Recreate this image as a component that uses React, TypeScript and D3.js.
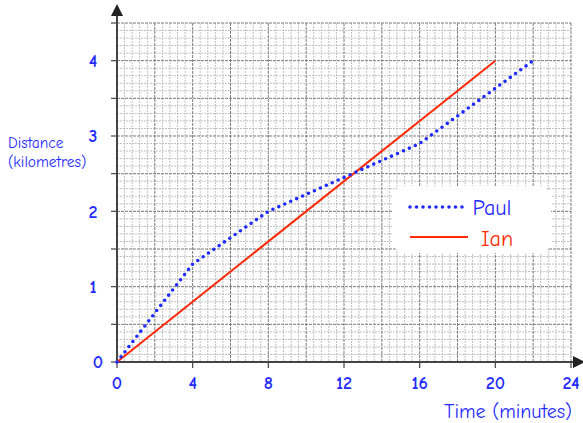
import React from "react";
import * as d3 from "d3";

const paulTime = [0, 4, 8, 16, 22];
const paulDist = [0, 1.3, 2.0, 2.9, 4.0];
const ianTime = [0, 20];
const ianDist = [0, 4.0];
const xTicks = [0, 4, 8, 12, 16, 20, 24];
const yTicks = [0, 1, 2, 3, 4];
const seriesNames = ["Paul", "Ian"];

const W = 583;
const H = 423;
const BLUE = "#1f2bff";
const RED = "#ff2a0a";
const FONT = "'Comic Sans MS', 'Comic Neue', Lato, 'Open Sans', sans-serif";

export default function App() {
  const x = d3.scaleLinear().domain([0, 24]).range([117, 571]);
  const y = d3.scaleLinear().domain([0, 4.5]).range([362, 23]);

  const minorX = d3.range(0, 24.001, 0.4);
  const minorY = d3.range(0, 4.5001, 0.1);
  const isMajorX = (v: number) => Math.abs(v / 2 - Math.round(v / 2)) < 1e-6;
  const isMajorY = (v: number) => Math.abs(v / 0.5 - Math.round(v / 0.5)) < 1e-6;

  const line = d3
    .line<[number, number]>()
    .x((d) => x(d[0]))
    .y((d) => y(d[1]));
  const paul = line(paulTime.map((t, i) => [t, paulDist[i]] as [number, number])) || "";
  const ian = line(ianTime.map((t, i) => [t, ianDist[i]] as [number, number])) || "";

  return (
    <svg
      width={W}
      height={H}
      style={{ position: "absolute", left: 0, top: 0, background: "#fff" }}
      fontFamily={FONT}
    >
      <defs>
        <marker id="arr" viewBox="0 0 10 10" refX="5" refY="5" markerWidth="6" markerHeight="6" orient="auto">
          <path d="M0,0 L10,5 L0,10 z" fill="#222" />
        </marker>
      </defs>
      {/* minor grid */}
      <g>
        {minorX.filter((v) => !isMajorX(v)).map((v, i) => (
          <line key={"mx" + i} x1={x(v)} x2={x(v)} y1={y(4.5)} y2={y(0)} stroke="#b0b0b0" strokeWidth={0.8} strokeDasharray="2 1" />
        ))}
        {minorY.filter((v) => !isMajorY(v)).map((v, i) => (
          <line key={"my" + i} x1={x(0)} x2={x(24)} y1={y(v)} y2={y(v)} stroke="#b0b0b0" strokeWidth={0.8} strokeDasharray="2 1" />
        ))}
        {minorX.filter((v) => isMajorX(v)).map((v, i) => (
          <line key={"Mx" + i} x1={x(v)} x2={x(v)} y1={y(4.5)} y2={y(0)} stroke="#7a7a7a" strokeWidth={1} strokeDasharray="3 1" />
        ))}
        {minorY.filter((v) => isMajorY(v)).map((v, i) => (
          <line key={"My" + i} x1={x(0)} x2={x(24)} y1={y(v)} y2={y(v)} stroke="#7a7a7a" strokeWidth={1} strokeDasharray="3 1" />
        ))}
      </g>
      {/* axes */}
      <line x1={x(0)} x2={x(0)} y1={y(0)} y2={10} stroke="#444" strokeWidth={2} markerEnd="url(#arr)" />
      <line x1={x(0)} x2={579} y1={y(0)} y2={y(0)} stroke="#444" strokeWidth={2} markerEnd="url(#arr)" />
      {d3.range(0, 4.5001, 0.5).map((v, i) => (
        <line key={"yt" + i} x1={x(0) - 6} x2={x(0)} y1={y(v)} y2={y(v)} stroke="#444" strokeWidth={1.2} />
      ))}
      {xTicks.map((v, i) => (
        <line key={"xt" + i} x1={x(v)} x2={x(v)} y1={y(0)} y2={y(0) + 6} stroke="#444" strokeWidth={1.2} />
      ))}
      {/* tick labels */}
      {yTicks.map((v) => (
        <text key={"yl" + v} x={v === 0 ? 98 : 93} y={y(v)} dy="0.35em" textAnchor="middle" fill={BLUE} fontSize={18} fontWeight={600}>
          {v}
        </text>
      ))}
      {xTicks.map((v) => (
        <text key={"xl" + v} x={x(v)} y={383} dy="0.35em" textAnchor="middle" fill={BLUE} fontSize={18} fontWeight={600}>
          {v}
        </text>
      ))}
      {/* axis titles */}
      <text x={8} y={143} dy="0.35em" fill={BLUE} fontSize={15.5}>Distance</text>
      <text x={8} y={162} dy="0.35em" fill={BLUE} fontSize={15.5}>(kilometres)</text>
      <text x={508} y={411} dy="0.35em" textAnchor="middle" fill={BLUE} fontSize={20}>Time (minutes)</text>
      {/* series */}
      <path d={ian} fill="none" stroke={RED} strokeWidth={2} />
      <path d={paul} fill="none" stroke={BLUE} strokeWidth={3.6} strokeDasharray="0 6.5" strokeLinecap="round" />
      {/* legend */}
      <rect x={393} y={186} width={158} height={67} rx={12} fill="#fff" />
      <line x1={410} x2={468} y1={207} y2={207} stroke={BLUE} strokeWidth={3.6} strokeDasharray="0 6.5" strokeLinecap="round" />
      <line x1={410} x2={468} y1={237} y2={237} stroke={RED} strokeWidth={2} />
      <text x={492} y={207} dy="0.35em" textAnchor="middle" fill={BLUE} fontSize={22}>{seriesNames[0]}</text>
      <text x={497} y={238} dy="0.35em" textAnchor="middle" fill={RED} fontSize={22}>{seriesNames[1]}</text>
    </svg>
  );
}
